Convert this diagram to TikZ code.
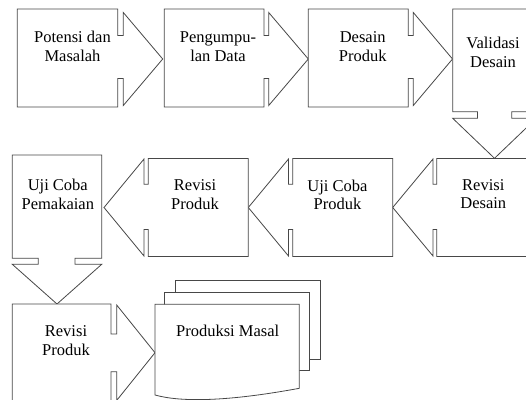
\documentclass[tikz,border=0pt]{standalone}
\usepackage{fontspec}
\setmainfont{Liberation Serif}
\begin{document}
\begin{tikzpicture}[x=1pt,y=-1pt,
  callout/.style={draw=black!72,fill=white,line width=0.8pt,line join=miter},
  doc/.style={draw=black!72,fill=white,line width=0.8pt},
  label/.style={inner sep=0pt,align=center,font=\fontsize{16.5}{18.5}\selectfont}]
\useasboundingbox (0,0) rectangle (526,399);
\clip (0,0) rectangle (526,399);

% --- first row: arrows pointing right, last one pointing down
\path[callout] (17.3,9)--(117.7,9)--(117.7,35.5)--(123.3,35.5)--(123.3,12.5)--(162.7,59)
  --(123.3,105.5)--(123.3,78.5)--(117.7,78.5)--(117.7,107)--(17.3,107)--cycle;
\path[callout] (164.3,9)--(264,9)--(264,35.5)--(268.7,35.5)--(268.7,12.5)--(308.3,59)
  --(268.7,105.5)--(268.7,78.5)--(264,78.5)--(264,107)--(164.3,107)--cycle;
\path[callout] (308.3,9)--(408.3,9)--(408.3,35.5)--(413.3,35.5)--(413.3,12.5)--(452.5,59)
  --(413.3,105.5)--(413.3,78.5)--(408.3,78.5)--(408.3,107)--(308.3,107)--cycle;
\path[callout] (452.7,9)--(536.3,9)--(536.3,111.7)--(511.7,111.7)--(511.7,118.3)--(536.3,118.3)
  --(494.5,158.3)--(452.7,118.3)--(477.5,118.3)--(477.5,111.7)--(452.7,111.7)--cycle;

% --- second row: arrows pointing left, last one pointing down
\path[callout] (536.7,158.5)--(436.7,158.5)--(436.7,184.3)--(433,184.3)--(433,159)--(392.7,207.5)
  --(433,256)--(433,229.5)--(436.7,229.5)--(436.7,256.5)--(536.7,256.5)--cycle;
\path[callout] (392.7,158.5)--(292.7,158.5)--(292.7,184.3)--(288.5,184.3)--(288.5,159)--(248.3,207.5)
  --(288.5,256)--(288.5,229.5)--(292.7,229.5)--(292.7,256.5)--(392.7,256.5)--cycle;
\path[callout] (248.3,158.5)--(148.3,158.5)--(148.3,184.3)--(144,184.3)--(144,159)--(104,207.5)
  --(144,256)--(144,229.5)--(148.3,229.5)--(148.3,256.5)--(248.3,256.5)--cycle;
\path[callout] (12.3,155)--(101.7,155)--(101.7,258.3)--(75,258.3)--(75,264.3)--(101.7,264.3)
  --(57,304)--(12.3,264.3)--(38.3,264.3)--(38.3,258.3)--(12.3,258.3)--cycle;

% --- third row
\path[callout] (12.3,304)--(111,304)--(111,334)--(116.7,334)--(116.7,305)--(155,352.7)
  --(116.7,400.4)--(116.7,371.7)--(111,371.7)--(111,401.4)--(12.3,401.4)--cycle;

% multiple documents
\path[doc] (175.7,280.7) rectangle (320,359.3);
\path[doc] (164,292.3) rectangle (309.3,370);
\path[doc] (155,304.3)--(299.3,304.3)--(299.3,388.3)
  .. controls (225,402) and (180,402) .. (155,395)--cycle;

% --- labels
\node[label] (potensi)   at (72.5,48.05)  {\strut Potensi dan\\\strut Masalah};
\node[label] (kumpul)    at (218,48.05)   {\strut Pengumpu-\\\strut lan Data};
\node[label] (desain)    at (362.7,48.05) {\strut Desain\\\strut Produk};
\node[label] (validasi)  at (493,54.05)   {\strut Validasi\\\strut Desain};
\node[label] (revdesain) at (483.3,195.55){\strut Revisi\\\strut Desain};
\node[label] (ujiproduk) at (337.5,196.55){\strut Uji Coba\\\strut Produk};
\node[label] (revproduk) at (195,196.25)  {\strut Revisi\\\strut Produk};
\node[label] (pemakaian) at (57.8,196.25) {\strut Uji Coba\\\strut Pemakaian};
\node[label] (revakhir)  at (66,342.25)   {\strut Revisi\\\strut Produk};
\node[label] (masal)     at (227.7,332.3) {\strut Produksi Masal};
\end{tikzpicture}
\end{document}
